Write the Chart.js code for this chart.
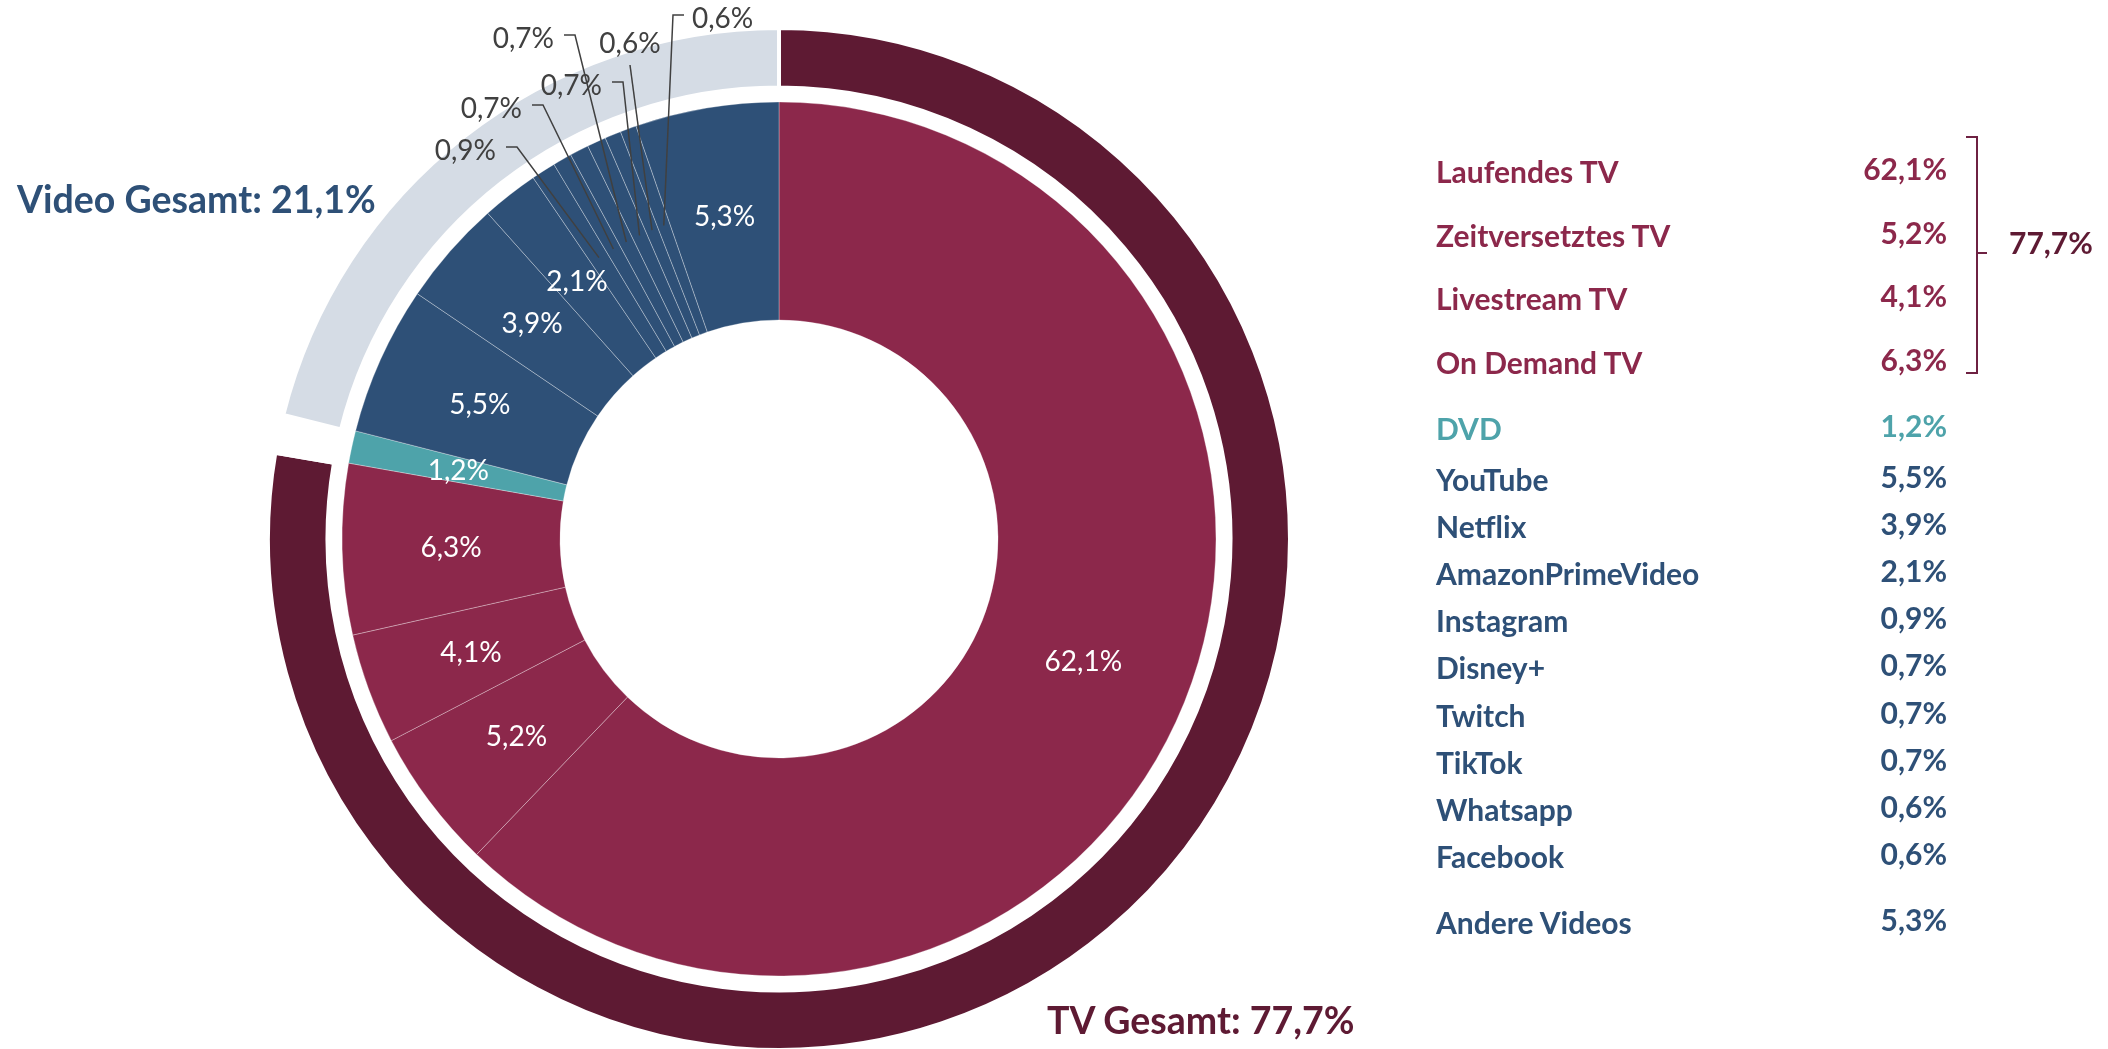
<!DOCTYPE html>
<html lang="de">
<head>
<meta charset="utf-8">
<title>TV und Video</title>
<script src="https://cdn.jsdelivr.net/npm/chart.js@4.4.1/dist/chart.umd.min.js"></script>
<style>
  html, body { margin: 0; padding: 0; background: #fff; overflow: hidden; }
  body { width: 2108px; height: 1049px; position: relative; font-family: Lato, "Noto Sans", sans-serif; }
  #chart { position: absolute; left: 0; top: 0; }
  .title { position: absolute; font-weight: 700; font-size: 37.5px; line-height: 37.5px; white-space: nowrap; }
  .row { position: absolute; left: 1436px; width: 511px; font-weight: 700; font-size: 30px; line-height: 30px; height: 30px; white-space: nowrap; }
  .row .val { position: absolute; right: 0; top: -3px; }
  .tv { color: #8C284B; }
  .dvd { color: #4EA3AA; }
  .video { color: #2E5077; }
  #bracket { position: absolute; left: 1966px; top: 136px; width: 10px; height: 234px; border: 2.5px solid #6E2142; border-left: none; }
  #bracketTick { position: absolute; left: 1978px; top: 252px; width: 9px; height: 0; border-top: 2.5px solid #6E2142; }
  #tvSum { position: absolute; left: 2009px; top: 227px; font-weight: 700; font-size: 30px; line-height: 30px; color: #5E1A33; }
</style>
</head>
<body>
<canvas id="chart" width="2108" height="1049"></canvas>
<div id="legend"></div>
<div id="bracket"></div>
<div id="bracketTick"></div>
<div id="tvSum"></div>
<div id="titleVideo" class="title video" style="left:17px; top:180px;"></div>
<div id="titleTv" class="title" style="left:1047px; top:1001px; color:#5E1A33;"></div>

<script>

// inner ring, clockwise from 12 o'clock
let innerLabels = ["Laufendes TV", "Zeitversetztes TV", "Livestream TV", "On Demand TV", "DVD",
	"YouTube", "Netflix", "AmazonPrimeVideo", "Instagram", "Disney+", "Twitch", "TikTok",
	"Whatsapp", "Facebook", "Andere Videos"];
let innerValues = [62.1, 5.2, 4.1, 6.3, 1.2, 5.5, 3.9, 2.1, 0.9, 0.7, 0.7, 0.7, 0.6, 0.6, 5.3];
let innerGroups = ["tv", "tv", "tv", "tv", "dvd", "video", "video", "video", "video", "video",
	"video", "video", "video", "video", "video"];

// outer ring: TV total, DVD (left empty), video total
let outerLabels = ["TV Gesamt", "DVD", "Video Gesamt"];
let outerValues = [77.7, 1.2, 21.1];

let groupColors = { tv: "#8C284B", dvd: "#4EA3AA", video: "#2E5077" };

function fmt(v) {
	return v.toFixed(1).replace(".", ",") + "%";
}

// knee of the leader line, relative to the chart centre; side = where the little elbow points
let leaderSpots = {
	"Instagram": { dx: -262, dy: -392, side: -1 },
	"Disney+":   { dx: -236, dy: -434, side: -1 },
	"Twitch":    { dx: -204, dy: -504, side: -1 },
	"TikTok":    { dx: -156, dy: -457, side: -1 },
	"Whatsapp":  { dx: -149, dy: -474, side: 0 },
	"Facebook":  { dx: -106, dy: -524, side: 1 }
};

const sliceLabels = {
	id: "sliceLabels",
	afterDatasetsDraw(chart) {

		let ctx = chart.ctx;
		let meta = chart.getDatasetMeta(2);
		let size = 28;

		ctx.save();
		ctx.font = size + "px Lato";

		meta.data.forEach(function(arc, i) {

			let v = innerValues[i];
			let text = fmt(v);

			if (v >= 1) {
				let p = arc.getCenterPoint();
				ctx.fillStyle = "#ffffff";
				ctx.textAlign = "center";
				ctx.textBaseline = "alphabetic";
				ctx.fillText(text, p.x, p.y + size * 0.36);
				return;
			}

			let spot = leaderSpots[innerLabels[i]];
			if (!spot) return;

			let mid = (arc.startAngle + arc.endAngle) / 2;
			let r = (arc.innerRadius + arc.outerRadius) / 2 + 6;
			let sx = arc.x + Math.cos(mid) * r;
			let sy = arc.y + Math.sin(mid) * r;
			let kx = arc.x + spot.dx;
			let ky = arc.y + spot.dy;

			ctx.strokeStyle = "#404040";
			ctx.lineWidth = 1.5;
			ctx.beginPath();
			ctx.moveTo(sx, sy);
			ctx.lineTo(kx, ky);
			if (spot.side != 0) ctx.lineTo(kx + spot.side * 11, ky);
			ctx.stroke();

			ctx.fillStyle = "#404040";
			ctx.textBaseline = "alphabetic";
			if (spot.side < 0) {
				ctx.textAlign = "right";
				ctx.fillText(text, kx - 21, ky + 3 + size * 0.36);
			} else if (spot.side > 0) {
				ctx.textAlign = "left";
				ctx.fillText(text, kx + 19, ky + 3 + size * 0.36);
			} else {
				ctx.textAlign = "center";
				ctx.fillText(text, kx, ky - 22 + size * 0.36);
			}

		});

		ctx.restore();
	}
};

let chart = new Chart(document.getElementById("chart"), {
	type: "doughnut",
	data: {
		labels: innerLabels,
		datasets: [{
			label: "Gesamt",
			data: outerValues,
			backgroundColor: ["#5E1A33", "rgba(0,0,0,0)", "#D5DCE5"],
			borderColor: "#ffffff",
			borderWidth: 4,
			hoverBorderWidth: 4,
			weight: 59.5,
			clip: false
		}, {
			label: "spacer",
			data: [1],
			backgroundColor: "rgba(0,0,0,0)",
			borderWidth: 0,
			weight: 14.5,
			clip: false
		}, {
			label: "Anteil",
			data: innerValues,
			backgroundColor: innerGroups.map(g => groupColors[g]),
			borderColor: "rgba(255,255,255,0.3)",
			borderWidth: 1,
			hoverBorderWidth: 1,
			weight: 218,
			clip: false
		}]
	},
	options: {
		responsive: false,
		animation: false,
		events: [],
		radius: 511,
		cutout: "42.86%",
		layout: { padding: { left: 266, right: 816, top: 29, bottom: 0 } },
		plugins: {
			legend: { display: false },
			tooltip: { enabled: false }
		}
	},
	plugins: [sliceLabels]
});

// legend on the right
let legend = document.getElementById("legend");
let videoRow = 0;

for (let i = 0; i < innerLabels.length; i++) {

	let g = innerGroups[i];
	let baseline;

	if (g == "tv") baseline = 183 + i * 63.5;
	else if (g == "dvd") baseline = 440;
	else if (innerLabels[i] == "Andere Videos") baseline = 934;
	else { baseline = 491 + videoRow * 47.1; videoRow++; }

	let row = document.createElement("div");
	row.className = "row " + g;
	row.style.top = (baseline - 27) + "px";
	row.innerHTML = "<span>" + innerLabels[i] + "</span><span class='val'>" + fmt(innerValues[i]) + "</span>";
	legend.appendChild(row);

}

document.getElementById("tvSum").textContent = fmt(outerValues[0]);
document.getElementById("titleVideo").textContent = outerLabels[2] + ": " + fmt(outerValues[2]);
document.getElementById("titleTv").textContent = outerLabels[0] + ": " + fmt(outerValues[0]);

</script>
</body>
</html>
